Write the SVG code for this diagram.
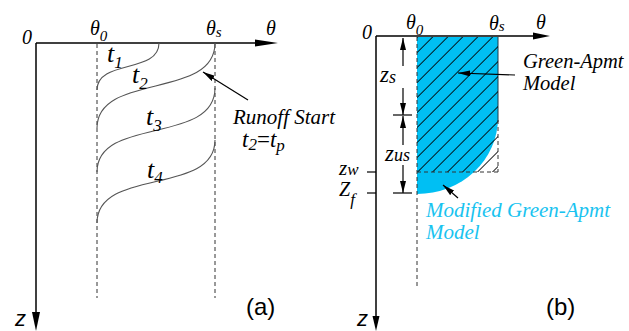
<svg xmlns="http://www.w3.org/2000/svg" width="629" height="331" viewBox="0 0 629 331">
<style>
.ax{stroke:#000;stroke-width:1.5;fill:none}
.dash{stroke:#333;stroke-width:1;stroke-dasharray:4 3;fill:none}
.crv{stroke:#555;stroke-width:1.1;fill:none}
.ln{stroke:#000;stroke-width:1.2;fill:none}
.m{font-family:"Liberation Serif",serif;font-style:italic;fill:#000}
.s{font-family:"Liberation Sans",Arial,sans-serif;fill:#000}
.cy{fill:#19C3F0}
</style>
<defs>
<marker id="ah" viewBox="0 0 12 6" refX="12" refY="3" markerWidth="12" markerHeight="6" markerUnits="userSpaceOnUse" orient="auto">
<path d="M0,0 L12,3 L0,6 Z" fill="#000"/>
</marker>
<pattern id="hatch" width="10.6" height="10" patternUnits="userSpaceOnUse" patternTransform="translate(417,37) rotate(45)">
<line x1="0.5" y1="0" x2="0.5" y2="10" stroke="#000" stroke-width="0.9"/>
</pattern>
</defs>

<g id="panel-a">
<g id="axes-a">
<line class="ax" x1="36" y1="43" x2="262" y2="43"/>
<polygon points="255,39.5 278,43 255,46.5" fill="#000"/>
<line class="ax" x1="36" y1="43" x2="36" y2="316"/>
<polygon points="32,312 40,312 36,331" fill="#000"/>
<line class="dash" x1="97" y1="44" x2="97" y2="298"/>
<line class="dash" x1="215" y1="44" x2="215" y2="298"/>
</g>
<g id="curves">
<path id="t1-curve" class="crv" d="M159,43 C159,74 97,59 97,90"/>
<path id="t2-curve" class="crv" d="M215,43 C215,100 97,72 97,128"/>
<path id="t3-curve" class="crv" d="M215,88 C215,145 97,116 97,172"/>
<path id="t4-curve" class="crv" d="M215,140 C215,196 97,167 97,223"/>
</g>
<g id="labels-a">
<text class="m" x="22" y="44" font-size="20">0</text>
<text class="m" x="90" y="35" font-size="20">θ<tspan font-size="15" dy="6">0</tspan></text>
<text class="m" x="206" y="35" font-size="20">θ<tspan font-size="15" dy="2">s</tspan></text>
<text class="m" x="266" y="35" font-size="20">θ</text>
<text class="m" x="107" y="62" font-size="26">t<tspan font-size="17" dy="6">1</tspan></text>
<text class="m" x="132" y="83" font-size="26">t<tspan font-size="17" dy="6">2</tspan></text>
<text class="m" x="146" y="125" font-size="26">t<tspan font-size="17" dy="6">3</tspan></text>
<text class="m" x="147" y="178" font-size="26">t<tspan font-size="17" dy="5">4</tspan></text>
</g>
<g id="runoff-start">
<line class="ln" x1="248" y1="100" x2="203" y2="72" marker-end="url(#ah)"/>
<text class="m" x="233" y="124" font-size="21">Runoff Start</text>
<text class="m" x="242" y="147" font-size="23">t<tspan font-size="17" dy="3">2</tspan><tspan font-style="normal" dy="-3">=</tspan>t<tspan font-size="17" dy="4">p</tspan></text>
</g>
<text class="s" x="246" y="315" font-size="24">(a)</text>
<text class="s" x="15" y="326" font-size="22" font-style="italic">z</text>
</g>

<g id="panel-b">
<g id="modified-region">
<path d="M417,37 L498,37 L498,118 A81,76 0 0 1 417,194 Z" fill="#00BFF3"/>
<line x1="498" y1="37" x2="498" y2="122" stroke="#1a3a48" stroke-width="1"/>
</g>
<g id="green-ampt-region">
<rect x="417" y="37" width="81" height="135" fill="url(#hatch)"/>
<line class="dash" x1="417" y1="172" x2="498" y2="172"/>
<line class="dash" x1="498" y1="120" x2="498" y2="172"/>
</g>
<g id="axes-b">
<line class="ax" x1="376" y1="36" x2="536" y2="36"/>
<polygon points="533,32.5 550,36 533,39.5" fill="#000"/>
<line class="ax" x1="376" y1="36" x2="376" y2="318"/>
<polygon points="372.5,316 379.5,316 376,331" fill="#000"/>
<line class="dash" x1="417" y1="37" x2="417" y2="288"/>
<line class="ln" x1="367" y1="172" x2="376" y2="172"/>
<line class="ln" x1="367" y1="193" x2="376" y2="193"/>
</g>
<g id="dimensions">
<line class="ln" x1="403" y1="66" x2="403" y2="38" marker-end="url(#ah)"/>
<line class="ln" x1="403" y1="88" x2="403" y2="115" marker-end="url(#ah)"/>
<line class="ln" x1="393" y1="115" x2="412" y2="115"/>
<line class="ln" x1="403" y1="145" x2="403" y2="116" marker-end="url(#ah)"/>
<line class="ln" x1="403" y1="165" x2="403" y2="193" marker-end="url(#ah)"/>
<line class="ln" x1="393" y1="193" x2="412" y2="193"/>
</g>
<g id="labels-b">
<text class="m" x="362" y="39" font-size="20">0</text>
<text class="m" x="406" y="29" font-size="20">θ<tspan font-size="15" dy="6">0</tspan></text>
<text class="m" x="489" y="30" font-size="20">θ<tspan font-size="15" dy="1">s</tspan></text>
<text class="m" x="536" y="29" font-size="20">θ</text>
<text class="m" x="380" y="82" font-size="23">z<tspan font-size="18" dy="1">s</tspan></text>
<text class="m" x="385" y="161" font-size="23">z<tspan font-size="18">us</tspan></text>
<text class="m" x="339" y="175" font-size="21">z<tspan font-size="17">w</tspan></text>
<text class="m" x="339" y="196" font-size="20">Z<tspan font-size="17" dy="9">f</tspan></text>
</g>
<g id="green-ampt-label">
<line class="ln" x1="515" y1="75" x2="458" y2="73" marker-end="url(#ah)"/>
<text class="m" x="523" y="68" font-size="20.5">Green-Apmt</text>
<text class="m" x="523" y="90" font-size="20.5">Model</text>
</g>
<g id="modified-label">
<line class="ln" x1="458" y1="198" x2="443" y2="185" marker-end="url(#ah)"/>
<text class="m cy" x="426" y="217" font-size="21">Modified Green-Apmt</text>
<text class="m cy" x="426" y="239" font-size="21">Model</text>
</g>
<text class="s" x="546" y="315" font-size="24">(b)</text>
<text class="s" x="357" y="326" font-size="22" font-style="italic">z</text>
</g>
</svg>
